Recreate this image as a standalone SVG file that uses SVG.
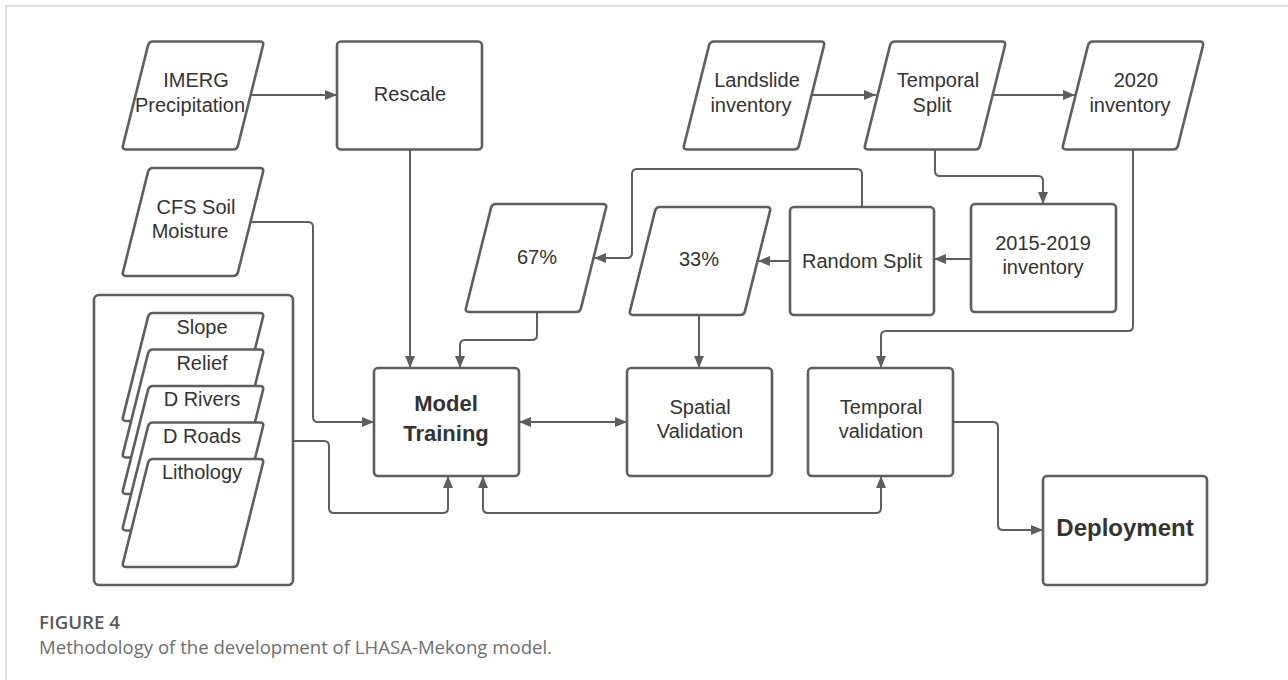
<svg xmlns="http://www.w3.org/2000/svg" xmlns:xlink="http://www.w3.org/1999/xlink" width="1288" height="680" viewBox="0 0 1288 680">
<style>
.shape{fill:#fff;stroke:#5e5e5e;stroke-width:2.6}
.conn{fill:none;stroke:#5e5e5e;stroke-width:2}
.lbl{font-family:"Liberation Sans",Arial,sans-serif;font-size:20px;fill:#333;text-anchor:middle}
.bold{font-weight:bold;font-size:22px}
.cap1{font-family:"Open Sans","Noto Sans",sans-serif;font-size:18px;font-weight:600;fill:#58595b}
.cap2{font-family:"Open Sans","Noto Sans",sans-serif;font-size:18px;fill:#6d6e71}
</style>
<defs>
<path id="para" d="M31,0 H138 Q142,0 141.03,3.88 L115.97,104.12 Q115,108 111,108 H4 Q0,108 0.97,104.12 L26.03,3.88 Q27,0 31,0 Z"/>
<marker id="arr" viewBox="0 0 12 10" refX="12" refY="5" markerWidth="12" markerHeight="10" markerUnits="userSpaceOnUse" orient="auto-start-reverse">
<path d="M0,0 L12,5 L0,10 Z" fill="#5e5e5e"/>
</marker>
</defs>
<rect width="1288" height="680" fill="#fff"/>
<path d="M6,680 V6 H1288" fill="none" stroke="#d4d4d4" stroke-width="1.5"/>

<g id="connectors">
<path class="conn" d="M251,95 H337" marker-end="url(#arr)"/>
<path class="conn" d="M251,222 H308 Q313,222 313,227 V417 Q313,422 318,422 H374" marker-end="url(#arr)"/>
<path class="conn" d="M410,149.5 V368" marker-end="url(#arr)"/>
<path class="conn" d="M812,95 H876" marker-end="url(#arr)"/>
<path class="conn" d="M993,95 H1075" marker-end="url(#arr)"/>
<path class="conn" d="M935,149.5 V171 Q935,176 940,176 H1038 Q1043,176 1043,181 V204" marker-end="url(#arr)"/>
<path class="conn" d="M1133,149.5 V326 Q1133,331 1128,331 H886 Q881,331 881,336 V368" marker-end="url(#arr)"/>
<path class="conn" d="M971,259 H934" marker-end="url(#arr)"/>
<path class="conn" d="M790,261 H758" marker-end="url(#arr)"/>
<path class="conn" d="M862,207 V174 Q862,169 857,169 H637 Q632,169 632,174 V253 Q632,258 627,258 H594" marker-end="url(#arr)"/>
<path class="conn" d="M537,312 V335 Q537,340 532,340 H465 Q460,340 460,345 V368" marker-end="url(#arr)"/>
<path class="conn" d="M699,315 V368" marker-end="url(#arr)"/>
<path class="conn" d="M519,422 H627" marker-start="url(#arr)" marker-end="url(#arr)"/>
<path class="conn" d="M293,441 H324 Q329,441 329,446 V508 Q329,513 334,513 H443 Q448,513 448,508 V476" marker-end="url(#arr)"/>
<path class="conn" d="M483,476 V508 Q483,513 488,513 H876 Q881,513 881,508 V476" marker-start="url(#arr)" marker-end="url(#arr)"/>
<path class="conn" d="M953,422 H993 Q998,422 998,427 V525 Q998,530 1003,530 H1043" marker-end="url(#arr)"/>
</g>

<g id="imerg">
<use xlink:href="#para" class="shape" x="122" y="41.5"/>
<text class="lbl" x="196" y="87">IMERG</text>
<text class="lbl" x="190" y="112">Precipitation</text>
</g>
<g id="rescale">
<rect class="shape" x="337" y="41.5" width="145" height="108" rx="4"/>
<text class="lbl" x="410" y="101">Rescale</text>
</g>
<g id="cfs">
<use xlink:href="#para" class="shape" x="122" y="168"/>
<text class="lbl" x="196" y="214">CFS Soil</text>
<text class="lbl" x="190" y="238">Moisture</text>
</g>
<g id="landslide">
<use xlink:href="#para" class="shape" x="683" y="41.5"/>
<text class="lbl" x="757" y="87">Landslide</text>
<text class="lbl" x="751" y="112">inventory</text>
</g>
<g id="temporal-split">
<use xlink:href="#para" class="shape" x="864" y="41.5"/>
<text class="lbl" x="938" y="87">Temporal</text>
<text class="lbl" x="932" y="112">Split</text>
</g>
<g id="inv2020">
<use xlink:href="#para" class="shape" x="1062" y="41.5"/>
<text class="lbl" x="1136" y="87">2020</text>
<text class="lbl" x="1130" y="112">inventory</text>
</g>
<g id="inv2015">
<rect class="shape" x="971" y="204" width="145" height="108" rx="4"/>
<text class="lbl" x="1043" y="250">2015-2019</text>
<text class="lbl" x="1043" y="274">inventory</text>
</g>
<g id="random-split">
<rect class="shape" x="790" y="207" width="144" height="108" rx="4"/>
<text class="lbl" x="862" y="268">Random Split</text>
</g>
<g id="p67">
<use xlink:href="#para" class="shape" x="465" y="204"/>
<text class="lbl" x="537" y="264">67%</text>
</g>
<g id="p33">
<use xlink:href="#para" class="shape" x="629" y="207"/>
<text class="lbl" x="699" y="266">33%</text>
</g>
<g id="static-layers">
<rect class="shape" x="94" y="295" width="199" height="290" rx="5"/>
<use xlink:href="#para" class="shape" x="122" y="313"/>
<text class="lbl" x="202" y="334">Slope</text>
<use xlink:href="#para" class="shape" x="122" y="349.5"/>
<text class="lbl" x="202" y="370">Relief</text>
<use xlink:href="#para" class="shape" x="122" y="386"/>
<text class="lbl" x="202" y="406">D Rivers</text>
<use xlink:href="#para" class="shape" x="122" y="422.5"/>
<text class="lbl" x="202" y="443">D Roads</text>
<use xlink:href="#para" class="shape" x="122" y="459"/>
<text class="lbl" x="202" y="479">Lithology</text>
</g>
<g id="model-training">
<rect class="shape" x="374" y="368" width="145" height="108" rx="4"/>
<text class="lbl bold" x="446" y="411">Model</text>
<text class="lbl bold" x="446" y="441">Training</text>
</g>
<g id="spatial-validation">
<rect class="shape" x="627" y="368" width="145" height="108" rx="4"/>
<text class="lbl" x="700" y="414">Spatial</text>
<text class="lbl" x="700" y="438">Validation</text>
</g>
<g id="temporal-validation">
<rect class="shape" x="808" y="368" width="145" height="108" rx="4"/>
<text class="lbl" x="881" y="414">Temporal</text>
<text class="lbl" x="881" y="438">validation</text>
</g>
<g id="deployment">
<rect class="shape" x="1043" y="476" width="164" height="109" rx="4"/>
<text class="lbl bold" x="1125" y="536" style="font-size:24px">Deployment</text>
</g>

<g id="caption">
<text class="cap1" x="39" y="629" textLength="81" lengthAdjust="spacingAndGlyphs">FIGURE 4</text>
<text class="cap2" x="39" y="654" textLength="513" lengthAdjust="spacingAndGlyphs">Methodology of the development of LHASA-Mekong model.</text>
</g>
</svg>
